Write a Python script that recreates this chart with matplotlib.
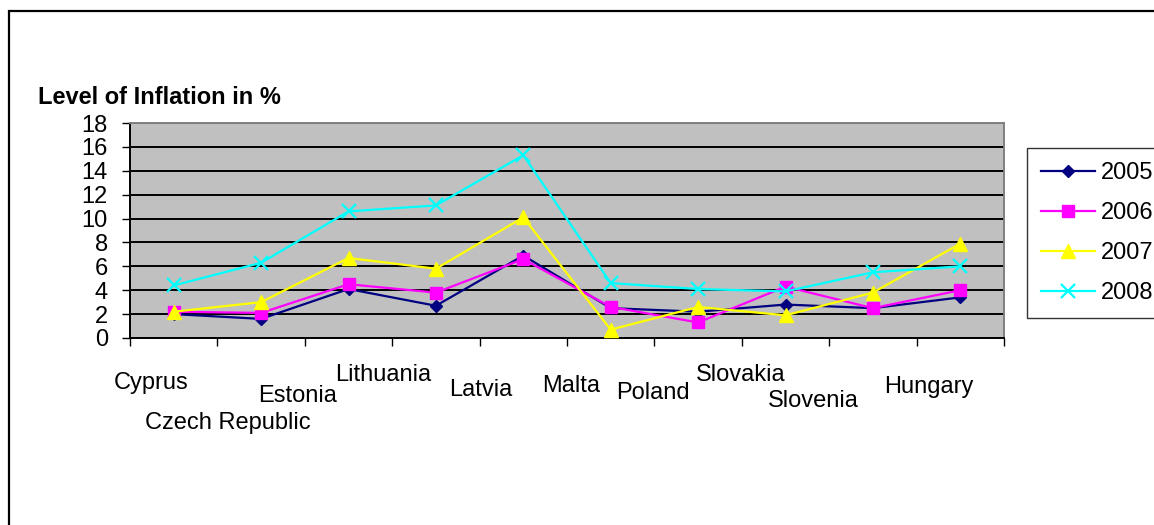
import matplotlib
matplotlib.use("Agg")
import matplotlib.pyplot as plt
from matplotlib.patches import Rectangle

countries = ["Cyprus", "Czech Republic", "Estonia", "Lithuania", "Latvia",
             "Malta", "Poland", "Slovakia", "Slovenia", "Hungary"]
years = ["2005", "2006", "2007", "2008"]
infl_2005 = [2.0, 1.6, 4.1, 2.7, 6.9, 2.5, 2.2, 2.8, 2.5, 3.4]
infl_2006 = [2.2, 2.1, 4.5, 3.8, 6.6, 2.6, 1.3, 4.3, 2.5, 4.0]
infl_2007 = [2.2, 3.0, 6.7, 5.8, 10.1, 0.7, 2.6, 1.9, 3.8, 7.9]
infl_2008 = [4.4, 6.3, 10.6, 11.1, 15.3, 4.6, 4.1, 3.9, 5.5, 6.0]
yticks = [0, 2, 4, 6, 8, 10, 12, 14, 16, 18]

# Excel-style staggered label placement (pixel offsets from category centre)
label_dx_px = [-23, -33, -51, -53, -43, -40, -45, -45, -60, -31]
label_y_px = [383, 423, 396, 375, 390, 386, 393, 375, 401, 387]

plt.rcParams['font.family'] = ['Liberation Sans', 'DejaVu Sans']
FS = 17

W, H = 1154, 525
fig = plt.figure(figsize=(W / 100, H / 100), dpi=100)
fig.patch.set_facecolor('white')

# outer chart border (right/bottom clipped off in the original)
fig.patches.append(Rectangle((8.5 / W, -0.1), 1.2, 1.1 - 11.5 / H,
                             transform=fig.transFigure, fill=False,
                             edgecolor='black', lw=1.6, zorder=0))

L, R, T, B = 130, 1004, 123, 338
ax = fig.add_axes([L / W, 1 - B / H, (R - L) / W, (B - T) / H])
ax.set_facecolor('#C0C0C0')

styles = [
    dict(color='#000080', marker='D', markersize=6.6),
    dict(color='#FF00FF', marker='s', markersize=8.0),
    dict(color='#FFFF00', marker='^', markersize=9.8),
    dict(color='#00FFFF', marker='x', markersize=9.5, markeredgewidth=1.6),
]
series = [infl_2005, infl_2006, infl_2007, infl_2008]
x = list(range(len(countries)))
for vals, yr, st in zip(series, years, styles):
    ax.plot(x, vals, lw=1.6, label=yr, zorder=3, clip_on=False, **st)

ax.set_xlim(-0.5, len(countries) - 0.5)
ax.set_ylim(0, 18)
ax.set_yticks(yticks)
ax.set_yticklabels([str(v) for v in yticks], fontsize=FS)
ax.yaxis.grid(True, color='black', lw=1.4, zorder=1)
ax.set_axisbelow(True)
ax.set_xticks([i - 0.5 for i in range(len(countries) + 1)])
ax.set_xticklabels([])
ax.tick_params(axis='y', direction='out', length=6, width=1, pad=10, colors='black')
ax.tick_params(axis='x', direction='out', length=6, width=1)

for s in ['left', 'bottom']:
    ax.spines[s].set_color('black')
    ax.spines[s].set_linewidth(1.4)
for s in ['top', 'right']:
    ax.spines[s].set_color('#808080')
    ax.spines[s].set_linewidth(1.4)

px_per_cat = (R - L) / len(countries)
px_per_unit = (B - T) / 18.0
for i, name in enumerate(countries):
    xd = i + label_dx_px[i] / px_per_cat
    yd = -(label_y_px[i] - B) / px_per_unit
    ax.text(xd, yd, name, ha='center', va='center', fontsize=FS, clip_on=False)

fig.text(38 / W, 1 - 98 / H, "Level of Inflation in %", fontsize=FS,
         fontweight='bold', ha='left', va='center')

leg = ax.legend(loc='upper left', bbox_to_anchor=(1027 / W, 1 - 148 / H),
                bbox_transform=fig.transFigure, fontsize=FS, frameon=True,
                fancybox=False, edgecolor='black', borderpad=0.6,
                handlelength=2.3, handletextpad=0.25, labelspacing=0.76,
                borderaxespad=0)
leg.get_frame().set_linewidth(1.0)
leg.get_frame().set_facecolor('white')

fig.savefig("out.png", dpi=100)
